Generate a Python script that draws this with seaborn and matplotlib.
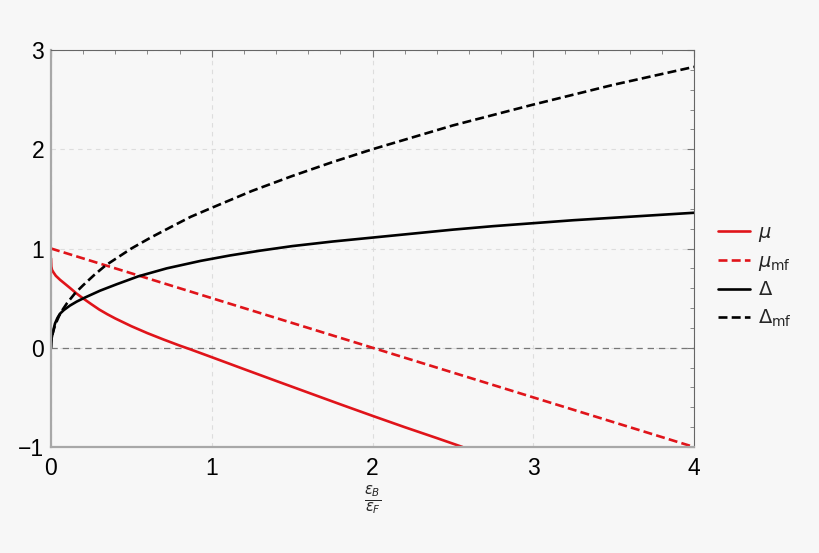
import numpy as np
import pandas as pd
import seaborn as sns
import matplotlib.pyplot as plt
from matplotlib.ticker import MultipleLocator

# values
mu_x = [0.0, 0.002, 0.006, 0.015, 0.03, 0.056, 0.09, 0.12, 0.16, 0.2, 0.25, 0.3, 0.35, 0.4,
        0.5, 0.6, 0.7, 0.8, 0.86, 1.0, 1.2, 1.4, 1.6, 1.8, 2.0, 2.2, 2.4, 2.56]
mu_y = [0.90, 0.82, 0.785, 0.76, 0.725, 0.685, 0.64, 0.60, 0.545, 0.497, 0.44, 0.385, 0.338, 0.295,
        0.217, 0.147, 0.083, 0.022, -0.012, -0.095, -0.215, -0.334, -0.452, -0.57, -0.686,
        -0.80, -0.91, -1.0]

mumf_x = [0.0, 4.0]
mumf_y = [1.0, -1.0]

delta_x = [0.0, 0.002, 0.005, 0.01, 0.025, 0.04, 0.056, 0.08, 0.118, 0.16, 0.21, 0.305, 0.409,
           0.544, 0.72, 0.93, 1.114, 1.3, 1.5, 1.75, 2.0, 2.25, 2.5, 2.75, 3.0, 3.25, 3.5,
           3.75, 4.0]
delta_y = [0.0, 0.07, 0.105, 0.144, 0.245, 0.30, 0.343, 0.38, 0.425, 0.465, 0.505, 0.575, 0.64,
           0.72, 0.80, 0.875, 0.93, 0.978, 1.024, 1.07, 1.11, 1.15, 1.19, 1.225, 1.255, 1.285,
           1.31, 1.335, 1.36]

deltamf_x = [0.0, 0.001, 0.002, 0.005, 0.01, 0.02, 0.03, 0.05, 0.075, 0.1, 0.15, 0.2, 0.27,
             0.34, 0.42, 0.5, 0.62, 0.75, 0.87, 1.0, 1.25, 1.5, 1.75, 2.0, 2.5, 3.0, 3.5, 4.0]
deltamf_y = [0.0, 0.045, 0.063, 0.10, 0.14, 0.20, 0.245, 0.32, 0.39, 0.45, 0.55, 0.63, 0.735,
             0.83, 0.915, 1.0, 1.11, 1.22, 1.32, 1.41, 1.58, 1.73, 1.87, 2.0, 2.24, 2.45,
             2.65, 2.83]

red = '#e0141a'
bg = '#f7f7f7'

sns.set_style('white')
plt.rcParams['font.family'] = ['Liberation Sans', 'DejaVu Sans']
plt.rcParams['mathtext.fontset'] = 'dejavusans'

fig = plt.figure(figsize=(8.2, 5.53), dpi=100, facecolor=bg)
ax = fig.add_axes([51 / 820, 1 - 447 / 553, (694 - 51) / 820, (447 - 50) / 553])
ax.set_facecolor(bg)

ax.grid(True, which='major', color='#dddddd', linestyle=(0, (4, 4)), linewidth=0.8)
ax.axhline(0, color='#777777', linestyle=(0, (5, 4)), linewidth=0.9, zorder=1)

lw = 1.9
dash = (0, (3.4, 1.6))
sns.lineplot(x=mu_x, y=mu_y, ax=ax, color=red, linewidth=lw, label=r'$\mu$')
sns.lineplot(x=mumf_x, y=mumf_y, ax=ax, color=red, linewidth=lw, linestyle=dash,
             label=r'$\mu_{\rm mf}$')
sns.lineplot(x=delta_x, y=delta_y, ax=ax, color='black', linewidth=lw, label=r'$\Delta$')
sns.lineplot(x=deltamf_x, y=deltamf_y, ax=ax, color='black', linewidth=lw, linestyle=dash,
             label=r'$\Delta_{\rm mf}$')

ax.set_xlim(0, 4)
ax.set_ylim(-1, 3)
ax.xaxis.set_major_locator(MultipleLocator(1))
ax.yaxis.set_major_locator(MultipleLocator(1))
ax.xaxis.set_minor_locator(MultipleLocator(0.2))
ax.yaxis.set_minor_locator(MultipleLocator(0.2))
ax.tick_params(which='both', direction='in', top=True, right=True, color='#777777',
               labelsize=16.5, labelcolor='black')
ax.tick_params(which='major', length=5, width=0.8)
ax.tick_params(which='minor', length=3, width=0.6)
ax.tick_params(axis='x', pad=7)
ax.tick_params(axis='y', pad=5)

for side in ['left', 'bottom']:
    ax.spines[side].set_color('#a8a8a8')
    ax.spines[side].set_linewidth(1.6)
for side in ['top', 'right']:
    ax.spines[side].set_color('#666666')
    ax.spines[side].set_linewidth(0.8)

ax.set_xlabel(r'$\frac{\epsilon_B}{\epsilon_F}$', fontsize=15, labelpad=3)
ax.set_ylabel('')

ax.legend(loc='center left', bbox_to_anchor=(710 / 820, 1 - 277 / 553),
          bbox_transform=fig.transFigure, frameon=False, fontsize=14, borderaxespad=0,
          handlelength=1.65, labelspacing=0.45, handletextpad=0.4)

fig.savefig('out.png', dpi=100, facecolor=bg)
